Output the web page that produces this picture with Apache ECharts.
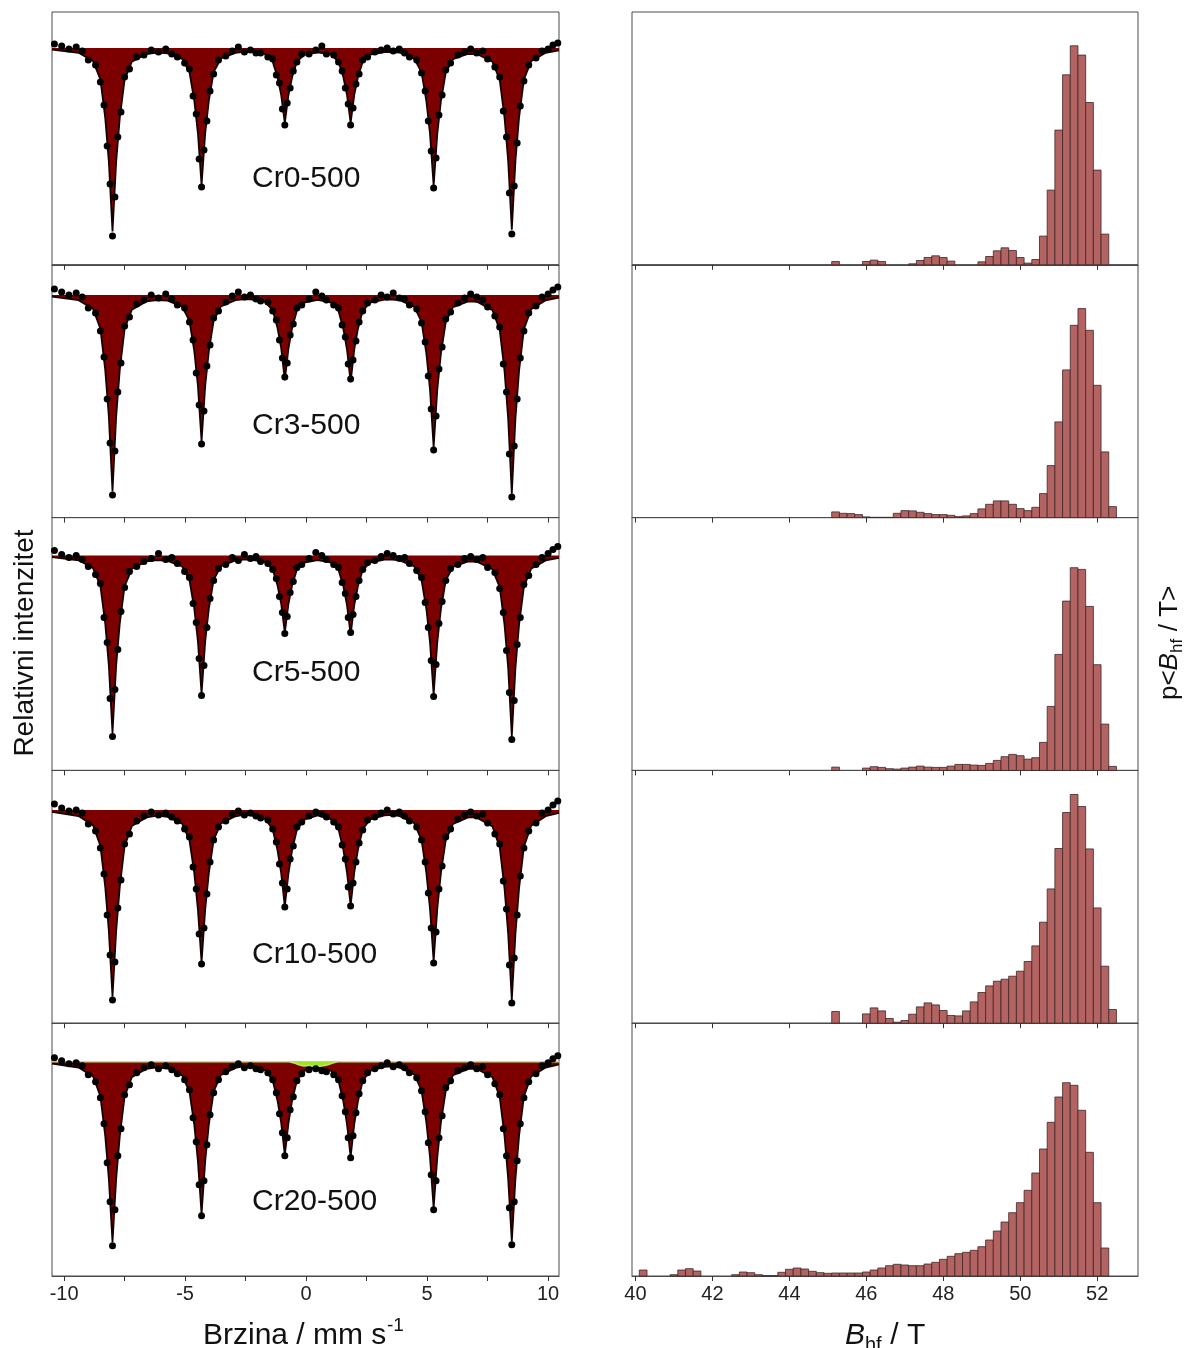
<!DOCTYPE html>
<html>
<head>
<meta charset="utf-8">
<script src="https://cdn.jsdelivr.net/npm/echarts@6/dist/echarts.min.js"></script>
<style>
html,body{margin:0;padding:0;background:#ffffff;}
#chart{width:1190px;height:1348px;}
</style>
</head>
<body>
<div id="chart"></div>
<script>
// ---------------- DATA ----------------
const sampleNames = ['Cr0-500', 'Cr3-500', 'Cr5-500', 'Cr10-500', 'Cr20-500'];

// velocity ticks / labels (mm/s)
const velTicks = [-10, -7.5, -5, -2.5, 0, 2.5, 5, 7.5, 10];
const velLabels = [-10, -5, 0, 5, 10];
// hyperfine field ticks (T)
const bhfTicks = [40, 42, 44, 46, 48, 50, 52];

// fit curve velocities (mm/s)
const fitV = [
  -10.5, -9.4, -8.8, -8.5, -8.3, -8.15, -8.0, -7.85, -7.7, -7.5, -7.2, -6.6, -6.16,
  -5.72, -5.12, -4.82, -4.62, -4.47, -4.32, -4.17, -4.02, -3.82, -3.52, -2.92, -2.6,
  -2.28, -1.68, -1.38, -1.18, -1.03, -0.88, -0.73, -0.58, -0.38, -0.08, 0.48,
  1.04, 1.34, 1.54, 1.69, 1.84, 1.99, 2.14, 2.34, 2.64, 3.24, 3.56,
  3.87, 4.47, 4.77, 4.97, 5.12, 5.27, 5.42, 5.57, 5.77, 6.07, 6.67, 6.88,
  7.1, 7.7, 8.0, 8.2, 8.35, 8.5, 8.65, 8.8, 9.0, 9.3, 9.9, 10.45
];
// fitted absorption (%) below baseline, per sample
const fitCr0 = [
  0.15, 0.48, 1.31, 3.14, 6.99, 11.39, 18.34, 11.43, 7.0, 3.16, 1.36, 0.6, 0.47,
  0.53, 1.08, 2.42, 5.27, 8.53, 13.7, 8.53, 5.26, 2.4, 1.05, 0.48, 0.39,
  0.39, 0.64, 1.37, 2.92, 4.69, 7.5, 4.72, 2.92, 1.37, 0.68, 0.44,
  0.67, 1.38, 2.92, 4.7, 7.5, 4.69, 2.92, 1.37, 0.67, 0.4, 0.4,
  0.47, 1.06, 2.43, 5.31, 8.59, 13.8, 8.6, 5.31, 2.46, 1.11, 0.6, 0.58,
  0.65, 1.38, 3.17, 6.96, 11.29, 18.17, 11.28, 6.93, 3.13, 1.31, 0.48, 0.23
];
const fitCr3 = [
  0.16, 0.52, 1.4, 3.36, 7.49, 12.19, 19.64, 12.19, 7.5, 3.38, 1.46, 0.64, 0.51,
  0.57, 1.16, 2.59, 5.62, 9.1, 14.61, 9.1, 5.61, 2.57, 1.13, 0.51, 0.43,
  0.43, 0.72, 1.55, 3.31, 5.32, 8.51, 5.35, 3.31, 1.55, 0.77, 0.49,
  0.77, 1.59, 3.39, 5.45, 8.71, 5.44, 3.39, 1.58, 0.77, 0.45, 0.45,
  0.52, 1.17, 2.68, 5.85, 9.47, 15.21, 9.48, 5.85, 2.71, 1.22, 0.66, 0.63,
  0.72, 1.51, 3.47, 7.61, 12.36, 19.88, 12.35, 7.57, 3.42, 1.43, 0.53, 0.25
];
const fitCr5 = [
  0.15, 0.47, 1.27, 3.04, 6.77, 11.01, 17.74, 11.01, 6.78, 3.06, 1.32, 0.58, 0.46,
  0.53, 1.09, 2.44, 5.31, 8.59, 13.8, 8.59, 5.3, 2.42, 1.06, 0.48, 0.4,
  0.39, 0.65, 1.4, 3.0, 4.81, 7.7, 4.84, 3.0, 1.4, 0.69, 0.45,
  0.7, 1.45, 3.07, 4.95, 7.9, 4.94, 3.07, 1.44, 0.7, 0.41, 0.4,
  0.48, 1.07, 2.45, 5.34, 8.66, 13.9, 8.67, 5.34, 2.48, 1.12, 0.61, 0.58,
  0.65, 1.37, 3.15, 6.92, 11.23, 18.07, 11.22, 6.89, 3.11, 1.3, 0.48, 0.23
];
const fitCr10 = [
  0.18, 0.6, 1.53, 3.57, 7.68, 12.14, 18.65, 12.14, 7.69, 3.59, 1.59, 0.73, 0.56,
  0.68, 1.37, 3.0, 6.31, 9.94, 15.22, 9.94, 6.3, 2.98, 1.33, 0.62, 0.47,
  0.53, 0.9, 1.94, 4.03, 6.3, 9.62, 6.34, 4.03, 1.94, 0.95, 0.53,
  0.93, 1.93, 3.98, 6.24, 9.52, 6.23, 3.98, 1.92, 0.93, 0.53, 0.48,
  0.61, 1.32, 2.97, 6.27, 9.87, 15.12, 9.88, 6.27, 3.01, 1.38, 0.76, 0.7,
  0.81, 1.64, 3.7, 7.85, 12.37, 18.98, 12.36, 7.81, 3.65, 1.56, 0.61, 0.28
];
const fitCr20 = [
  0.18, 0.58, 1.48, 3.46, 7.43, 11.75, 18.05, 11.75, 7.44, 3.48, 1.54, 0.71, 0.56,
  0.68, 1.37, 3.0, 6.31, 9.94, 15.22, 9.94, 6.3, 2.98, 1.33, 0.62, 0.46,
  0.52, 0.88, 1.88, 3.9, 6.1, 9.32, 6.14, 3.9, 1.88, 0.93, 0.53,
  0.93, 1.93, 3.98, 6.24, 9.52, 6.23, 3.98, 1.92, 0.93, 0.52, 0.47,
  0.6, 1.28, 2.88, 6.07, 9.55, 14.62, 9.56, 6.07, 2.92, 1.34, 0.75, 0.68,
  0.78, 1.56, 3.51, 7.44, 11.72, 17.98, 11.71, 7.4, 3.46, 1.48, 0.58, 0.27
];
// second (paramagnetic) component of Cr20-500
const greenV = [-10.5, -0.7, -0.5, -0.3, -0.1, 0.1, 0.3, 0.5, 0.7, 0.9, 1.1, 1.3, 10.45];
const greenAbs = [0, 0, 0.12, 0.3, 0.42, 0.38, 0.45, 0.48, 0.4, 0.3, 0.14, 0, 0];

// measured points: velocities (mm/s)
const dotV = [
  -10.4, -10.1, -9.8, -9.5, -9.25,
  -9.0, -8.7, -8.5, -8.35, -8.22, -8.1, -8.0, -7.9, -7.78, -7.65, -7.5, -7.3, -7.0,
  -6.7, -6.4, -6.1, -5.8, -5.55,
  -5.32, -5.02, -4.82, -4.67, -4.54, -4.42, -4.32, -4.22, -4.1, -3.97, -3.82, -3.62, -3.32,
  -3.05, -2.8, -2.55, -2.3, -2.07,
  -1.88, -1.58, -1.38, -1.23, -1.1, -0.98, -0.88, -0.78, -0.66, -0.53, -0.38, -0.18, 0.12,
  0.4, 0.65,
  0.84, 1.14, 1.34, 1.49, 1.62, 1.74, 1.84, 1.94, 2.06, 2.19, 2.34, 2.54, 2.84,
  3.1, 3.35, 3.6, 3.85, 4.07,
  4.27, 4.57, 4.77, 4.92, 5.05, 5.17, 5.27, 5.37, 5.49, 5.62, 5.77, 5.97, 6.27,
  6.55, 6.8, 7.05, 7.3,
  7.5, 7.8, 8.0, 8.15, 8.28, 8.4, 8.5, 8.6, 8.72, 8.85, 9.0, 9.2, 9.5,
  9.75, 10.0, 10.2, 10.4
];
// measured absorption (%) per sample
const dotsCr0 = [
  -0.4, -0.2, 0.1, -0.1, 0.3,
  1.2, 1.7, 3.4, 5.7, 9.8, 13.6, 18.8, 14.9, 8.9, 6.4, 2.9, 2.1, 0.9,
  0.7, 0.2, 0.4, 0.1, 0.6,
  0.9, 1.5, 2.1, 4.8, 6.6, 11.1, 13.9, 10.2, 7.3, 4.3, 2.6, 1.2, 0.8,
  0.3, -0.1, 0.4, 0.2, 0.5,
  0.5, 0.9, 1.1, 2.7, 3.5, 6.1, 7.7, 5.5, 4.0, 2.3, 1.4, 0.6, 0.6,
  0.2, -0.2,
  0.6, 0.7, 1.4, 2.3, 4.0, 5.6, 7.7, 6.0, 3.6, 2.6, 1.2, 0.9, 0.4,
  0.2, 0.0, 0.3, 0.1, 0.5,
  0.9, 1.2, 2.5, 4.3, 7.3, 10.3, 14.0, 11.0, 6.7, 4.7, 2.2, 1.5, 0.7,
  0.4, 0.1, 0.5, 0.3,
  1.1, 1.9, 2.9, 6.3, 8.9, 14.5, 18.6, 13.8, 9.5, 5.8, 3.3, 1.7, 1.0,
  0.3, 0.1, -0.3, -0.5
];
const dotsCr3 = [
  -0.6, -0.3, 0.0, -0.2, 0.2,
  1.3, 1.8, 3.6, 6.2, 10.4, 14.8, 20.0, 15.6, 9.7, 6.8, 3.1, 2.2, 0.9,
  0.5, 0.0, 0.3, -0.1, 0.4,
  1.0, 1.3, 2.7, 4.5, 7.8, 11.0, 14.9, 11.6, 7.1, 5.0, 2.3, 1.6, 0.7,
  0.1, -0.3, 0.2, 0.0, 0.4,
  0.6, 0.7, 1.6, 2.5, 4.5, 6.3, 8.2, 6.8, 4.0, 2.9, 1.3, 1.0, 0.4,
  -0.3, 0.1,
  0.5, 1.0, 1.3, 3.0, 4.2, 6.9, 8.4, 6.5, 4.6, 2.7, 1.6, 0.8, 0.5,
  0.0, 0.2, -0.2, 0.3, 0.4,
  1.0, 1.4, 2.8, 4.7, 8.1, 11.4, 15.5, 12.1, 7.4, 5.2, 2.4, 1.7, 0.8,
  0.3, -0.1, 0.2, 0.5,
  1.2, 2.1, 3.2, 6.9, 9.7, 15.9, 20.2, 15.1, 10.4, 6.3, 3.6, 1.8, 1.1,
  0.2, -0.1, -0.5, -0.8
];
const dotsCr5 = [
  -0.5, -0.1, 0.2, 0.0, 0.4,
  1.1, 1.9, 2.8, 6.2, 8.7, 14.3, 18.1, 13.4, 9.4, 5.6, 3.2, 1.6, 1.1,
  0.6, 0.3, -0.2, 0.4, 0.2,
  0.8, 1.6, 2.2, 4.8, 6.7, 10.3, 14.0, 11.0, 7.2, 4.3, 2.5, 1.3, 0.9,
  0.2, 0.5, -0.1, 0.3, 0.1,
  0.6, 0.8, 1.4, 2.3, 4.1, 5.7, 7.8, 6.1, 3.7, 2.6, 1.2, 0.9, 0.3,
  -0.3, 0.0,
  0.4, 0.9, 1.2, 2.7, 3.8, 6.2, 7.7, 5.9, 4.1, 2.5, 1.4, 0.7, 0.5,
  0.1, -0.2, 0.0, 0.3, 0.2,
  0.8, 1.5, 2.2, 4.7, 7.2, 10.5, 14.1, 10.9, 6.8, 4.6, 2.5, 1.3, 0.9,
  0.3, 0.1, 0.4, 0.2,
  1.2, 1.7, 3.3, 5.7, 9.5, 13.7, 18.4, 14.5, 8.9, 6.2, 2.9, 2.0, 0.9,
  0.2, -0.2, -0.6, -0.9
];
const dotsCr10 = [
  -0.6, -0.2, 0.1, 0.0, 0.3,
  1.4, 2.1, 3.8, 6.4, 10.5, 14.5, 19.0, 15.2, 9.8, 7.0, 3.4, 2.4, 1.1,
  0.6, 0.2, 0.5, 0.3, 0.7,
  1.1, 1.9, 2.7, 5.7, 7.9, 12.4, 15.4, 11.8, 8.4, 5.2, 3.0, 1.7, 1.1,
  0.4, 0.1, 0.5, 0.3, 0.6,
  0.8, 1.0, 1.9, 3.2, 5.4, 7.3, 9.7, 7.9, 4.9, 3.6, 1.7, 1.2, 0.6,
  0.2, 0.4,
  0.7, 1.2, 1.7, 3.5, 4.9, 7.7, 9.6, 7.3, 5.2, 3.3, 2.0, 1.0, 0.7,
  0.3, 0.0, 0.4, 0.2, 0.6,
  1.1, 1.7, 3.0, 5.2, 8.3, 11.8, 15.3, 12.2, 7.9, 5.6, 2.7, 1.9, 0.9,
  0.5, 0.2, 0.6, 0.4,
  1.3, 2.4, 3.4, 7.1, 9.9, 15.5, 19.3, 14.8, 10.5, 6.6, 3.8, 2.1, 1.3,
  0.3, 0.0, -0.5, -0.9
];
const dotsCr20 = [
  -0.4, -0.1, 0.2, 0.1, 0.4,
  1.3, 2.0, 3.6, 6.2, 10.1, 14.0, 18.4, 14.8, 9.4, 6.7, 3.3, 2.3, 1.1,
  0.6, 0.3, 0.7, 0.4, 0.8,
  1.2, 1.8, 2.8, 5.6, 8.0, 12.3, 15.4, 11.9, 8.3, 5.3, 3.1, 1.8, 1.0,
  0.5, 0.2, 0.6, 0.4, 0.7,
  0.8, 1.1, 1.8, 3.1, 5.2, 7.1, 9.4, 7.6, 4.8, 3.5, 1.9, 1.2, 0.8,
  0.7, 0.9,
  1.0, 1.3, 1.8, 3.4, 5.0, 7.6, 9.6, 7.4, 5.1, 3.2, 1.9, 1.1, 0.7,
  0.4, 0.1, 0.5, 0.3, 0.6,
  1.1, 1.6, 2.9, 5.0, 8.1, 11.3, 14.8, 11.9, 7.6, 5.4, 2.6, 1.9, 0.9,
  0.6, 0.3, 0.7, 0.5,
  1.3, 2.2, 3.3, 6.7, 9.4, 14.6, 18.3, 14.0, 9.9, 6.2, 3.6, 2.0, 1.2,
  0.4, 0.1, -0.3, -0.6
];

// hyperfine field distribution: bin centres (T)
const bhfBins = [
  40.2, 40.4, 40.6, 40.8, 41.0, 41.2, 41.4, 41.6, 41.8, 42.0,
  42.2, 42.4, 42.6, 42.8, 43.0, 43.2, 43.4, 43.6, 43.8, 44.0,
  44.2, 44.4, 44.6, 44.8, 45.0, 45.2, 45.4, 45.6, 45.8, 46.0,
  46.2, 46.4, 46.6, 46.8, 47.0, 47.2, 47.4, 47.6, 47.8, 48.0,
  48.2, 48.4, 48.6, 48.8, 49.0, 49.2, 49.4, 49.6, 49.8, 50.0,
  50.2, 50.4, 50.6, 50.8, 51.0, 51.2, 51.4, 51.6, 51.8, 52.0,
  52.2, 52.4
];
const pBhfCr0 = [
  0, 0, 0, 0, 0, 0, 0, 0, 0, 0,
  0, 0, 0, 0, 0, 0, 0, 0, 0, 0,
  0, 0, 0, 0, 0, 3.3, 0, 0, 0, 3.3,
  4.7, 3.3, 0, 0, 0, 1.0, 4.3, 7.3, 9.0, 7.3,
  3.7, 0, 0, 0, 3.0, 8.3, 14.0, 17.0, 14.3, 7.3,
  1.7, 5.3, 28.7, 74.7, 134.7, 190.0, 219.0, 209.7, 162.3, 94.7,
  30.7, 0
];
const pBhfCr3 = [
  0, 0, 0, 0, 0, 0, 0, 0, 0, 0,
  0, 0, 0, 0, 0, 0, 0, 0, 0, 0,
  0, 0, 0, 0, 0, 5.7, 4.3, 4.0, 3.0, 0.7,
  0.3, 0.3, 0.3, 4.3, 7.0, 6.7, 5.3, 4.0, 3.0, 3.0,
  2.3, 1.0, 1.7, 4.0, 8.7, 13.3, 16.7, 16.7, 13.3, 9.0,
  7.0, 10.3, 24.0, 52.0, 95.7, 147.7, 192.3, 209.0, 187.3, 132.3,
  65.7, 11.0
];
const pBhfCr5 = [
  0, 0, 0, 0, 0, 0, 0, 0, 0, 0,
  0, 0, 0, 0, 0, 0, 0, 0, 0, 0,
  0, 0, 0, 0, 0, 3.3, 0, 0, 0, 2.3,
  3.7, 3.0, 1.7, 1.3, 2.3, 3.3, 4.3, 3.3, 3.0, 3.0,
  4.3, 6.0, 6.0, 5.3, 5.0, 7.0, 10.0, 13.7, 16.0, 14.7,
  11.3, 12.7, 28.0, 64.0, 116.0, 169.3, 202.7, 201.0, 164.0, 105.7,
  46.3, 4.0
];
const pBhfCr10 = [
  0, 0, 0, 0, 0, 0, 0, 0, 0, 0,
  0, 0, 0, 0, 0, 0, 0, 0, 0, 0,
  0, 0, 0, 0, 0, 11.7, 0, 0, 0, 9.3,
  15.3, 12.3, 4.7, 1.0, 2.7, 9.0, 16.3, 20.3, 18.3, 12.7,
  7.7, 7.3, 12.3, 21.3, 30.7, 37.3, 42.0, 44.0, 47.0, 52.0,
  61.7, 77.3, 101.0, 134.3, 174.7, 210.7, 228.7, 216.7, 174.3, 115.3,
  57.0, 13.7
];
const pBhfCr20 = [
  6.0, 0, 0, 0, 1.3, 6.0, 7.3, 5.0, 0, 0,
  0, 0, 1.3, 4.0, 3.3, 1.3, 0.3, 0.3, 3.7, 6.7,
  8.0, 7.0, 4.7, 3.3, 2.7, 3.0, 3.0, 3.0, 3.0, 4.0,
  6.0, 8.0, 10.3, 11.7, 11.0, 10.3, 10.3, 12.0, 13.7, 16.7,
  19.7, 22.3, 23.7, 25.7, 29.3, 36.0, 45.0, 54.0, 63.3, 73.3,
  85.7, 103.0, 127.0, 153.7, 179.0, 193.3, 190.7, 165.7, 123.7, 73.3,
  28.0, 0
];

// ---------------- LAYOUT / STYLE ----------------
const fitSets = [fitCr0, fitCr3, fitCr5, fitCr10, fitCr20];
const dotSets = [dotsCr0, dotsCr3, dotsCr5, dotsCr10, dotsCr20];
const histSets = [pBhfCr0, pBhfCr3, pBhfCr5, pBhfCr10, pBhfCr20];

const FONT = '"Liberation Sans", Arial, sans-serif';
const panelTops = [12, 264.8, 517.6, 770.4, 1023.2];
const panelH = 252.8;
const baseOffset = [3.6, 3.02, 3.8, 3.97, 3.85];   // absorption-axis headroom above baseline
const absSpan = 25.28;
const histMax = 252.8;
const binHalf = 0.1;
const labelCapCenters = [178, 425, 672, 954, 1201];
const FRAME = '#4a4a4a';

const grids = [], xAxes = [], yAxes = [], series = [];

for (let i = 0; i < 5; i++) {
  const bottom = (i === 4);
  grids.push({left: 52, width: 507, top: panelTops[i], height: panelH,
    show: true, borderColor: FRAME, borderWidth: 1, backgroundColor: 'transparent'});
  xAxes.push({type: 'value', gridIndex: i, min: -10.5, max: 10.45,
    axisLine: {show: true, onZero: false, lineStyle: {color: FRAME, width: 1}},
    axisTick: {show: true, customValues: velTicks, length: 5, inside: false, lineStyle: {color: '#333', width: 1}},
    axisLabel: {show: bottom, customValues: velLabels, fontSize: 20, color: '#222', fontFamily: FONT, margin: 8},
    splitLine: {show: false}});
  yAxes.push({type: 'value', gridIndex: i, inverse: true, min: -baseOffset[i], max: -baseOffset[i] + absSpan, show: false});
}
for (let i = 0; i < 5; i++) {
  const bottom = (i === 4);
  grids.push({left: 632, width: 506, top: panelTops[i], height: panelH,
    show: true, borderColor: FRAME, borderWidth: 1, backgroundColor: 'transparent'});
  xAxes.push({type: 'value', gridIndex: 5 + i, min: 39.91, max: 53.06,
    axisLine: {show: true, onZero: false, lineStyle: {color: FRAME, width: 1}},
    axisTick: {show: true, customValues: bhfTicks, length: 5, inside: false, lineStyle: {color: '#333', width: 1}},
    axisLabel: {show: bottom, customValues: bhfTicks, fontSize: 20, color: '#222', fontFamily: FONT, margin: 8},
    splitLine: {show: false}});
  yAxes.push({type: 'value', gridIndex: 5 + i, min: 0, max: histMax, show: false});
}

for (let i = 0; i < 5; i++) {
  series.push({type: 'line', xAxisIndex: i, yAxisIndex: i,
    data: fitV.map((v, k) => [v, fitSets[i][k]]),
    symbol: 'none', smooth: false, silent: true, animation: false, z: 2,
    lineStyle: {color: '#140000', width: 1.8},
    areaStyle: {color: '#7d0000', opacity: 1}});
  if (i === 4) {
    series.push({type: 'line', xAxisIndex: i, yAxisIndex: i,
      data: greenV.map((v, k) => [v, greenAbs[k]]),
      symbol: 'none', silent: true, animation: false, z: 3,
      lineStyle: {color: '#b9ea62', width: 1.5},
      areaStyle: {color: '#9fe324', opacity: 1}});
  }
  series.push({type: 'scatter', xAxisIndex: i, yAxisIndex: i,
    data: dotV.map((v, k) => [v, dotSets[i][k]]),
    symbol: 'circle', symbolSize: 7, silent: true, animation: false, z: 4,
    itemStyle: {color: '#000000', opacity: 1}});
  series.push({type: 'custom', xAxisIndex: 5 + i, yAxisIndex: 5 + i,
    data: bhfBins.map((b, k) => [b, histSets[i][k]]).filter(d => d[1] > 0),
    silent: true, animation: false, z: 2,
    renderItem: function (params, api) {
      const x = api.value(0), y = api.value(1);
      const p0 = api.coord([x - binHalf, y]);
      const p1 = api.coord([x + binHalf, 0]);
      return {type: 'rect',
        shape: {x: p0[0], y: p0[1], width: p1[0] - p0[0], height: p1[1] - p0[1]},
        style: {fill: '#b46363', stroke: '#3e2626', lineWidth: 0.8}};
    }});
}

const graphics = [];
sampleNames.forEach((name, i) => {
  graphics.push({type: 'text', x: 252, y: labelCapCenters[i] + 1,
    style: {text: name, font: '30px ' + FONT, fill: '#111', textAlign: 'left', textVerticalAlign: 'middle'}, z: 10});
});
graphics.push({type: 'text', x: 25, y: 643, rotation: Math.PI / 2,
  style: {text: 'Relativni intenzitet', font: '28px ' + FONT, fill: '#111', textAlign: 'center', textVerticalAlign: 'middle'}});
graphics.push({type: 'text', x: 203, y: 1336,
  style: {text: 'Brzina / mm s', font: '30px ' + FONT, fill: '#111', textAlign: 'left', textVerticalAlign: 'middle'}});
graphics.push({type: 'text', x: 387, y: 1326,
  style: {text: '-1', font: '19px ' + FONT, fill: '#111', textAlign: 'left', textVerticalAlign: 'middle'}});
graphics.push({type: 'text', x: 845, y: 1336,
  style: {text: 'B', font: 'italic 30px ' + FONT, fill: '#111', textAlign: 'left', textVerticalAlign: 'middle'}});
graphics.push({type: 'text', x: 865, y: 1345,
  style: {text: 'hf', font: '20px ' + FONT, fill: '#111', textAlign: 'left', textVerticalAlign: 'middle'}});
graphics.push({type: 'text', x: 882, y: 1336,
  style: {text: ' / T', font: '30px ' + FONT, fill: '#111', textAlign: 'left', textVerticalAlign: 'middle'}});
graphics.push({type: 'group', x: 1170, y: 700, rotation: Math.PI / 2, children: [
  {type: 'text', x: 0, y: 0, style: {text: 'p<', font: '26px ' + FONT, fill: '#111', textAlign: 'left', textVerticalAlign: 'middle'}},
  {type: 'text', x: 29.6, y: 0, style: {text: 'B', font: 'italic 26px ' + FONT, fill: '#111', textAlign: 'left', textVerticalAlign: 'middle'}},
  {type: 'text', x: 47, y: 7, style: {text: 'hf', font: '17px ' + FONT, fill: '#111', textAlign: 'left', textVerticalAlign: 'middle'}},
  {type: 'text', x: 61.5, y: 0, style: {text: ' / T>', font: '26px ' + FONT, fill: '#111', textAlign: 'left', textVerticalAlign: 'middle'}}
]});

const chart = echarts.init(document.getElementById('chart'), null, {renderer: 'canvas', width: 1190, height: 1348});
chart.setOption({
  animation: false,
  backgroundColor: '#ffffff',
  grid: grids,
  xAxis: xAxes,
  yAxis: yAxes,
  series: series,
  graphic: {elements: graphics}
});
</script>
</body>
</html>
